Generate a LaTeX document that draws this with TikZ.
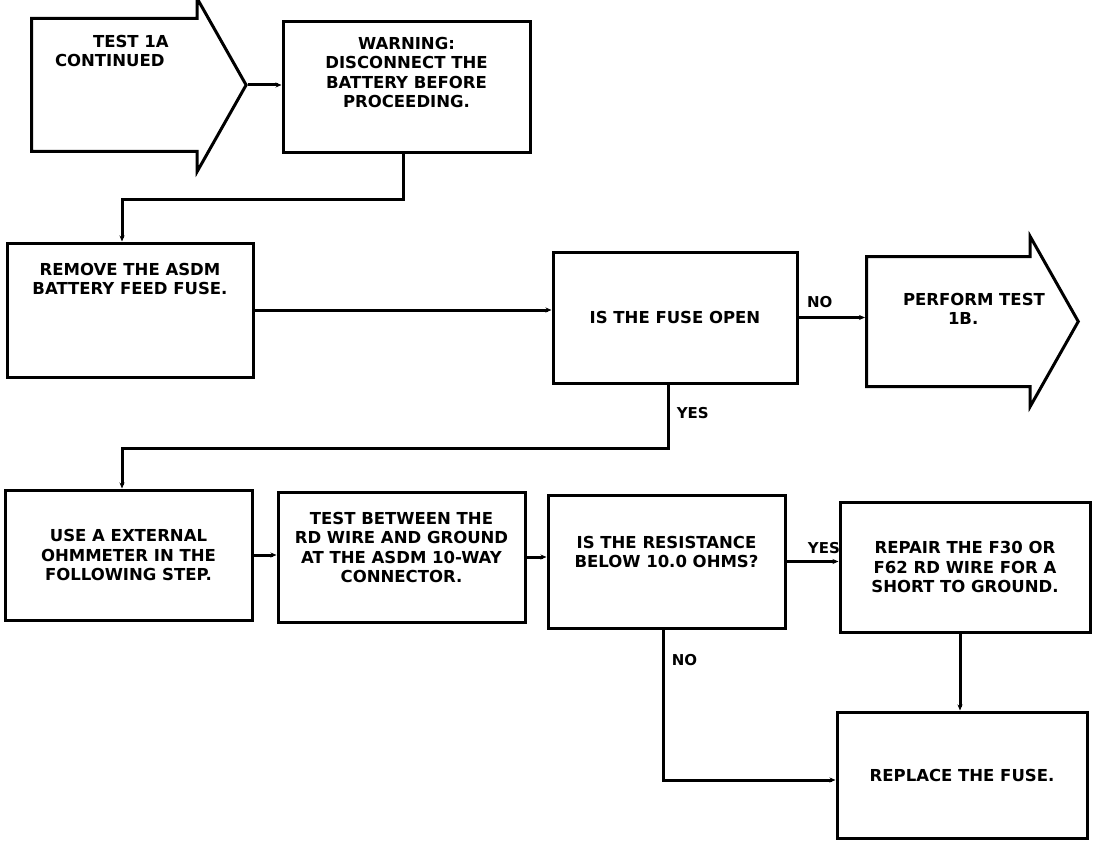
\documentclass[tikz,border=0pt]{standalone}
\usepackage{fontspec}
\setmainfont{DejaVu Sans}
\usetikzlibrary{shapes.arrows,arrows.meta}

\begin{document}
\begin{tikzpicture}[x=1pt,y=-1pt,
    font=\fontsize{16.5}{19.5}\selectfont\bfseries,
    stepbox/.style={draw, line width=3pt, rectangle, inner sep=0pt, align=center},
    gotest/.style={draw, line width=3pt, single arrow, single arrow head extend=20pt,
      single arrow tip angle=121, inner sep=0pt},
    conn/.style={line width=3pt, -{Stealth[length=6pt,width=5pt]}},
    answer/.style={font=\fontsize{15}{18}\selectfont\bfseries}]
  \useasboundingbox (0,0) rectangle (1120,848);

  \node[gotest, anchor=tail] (cont) at (30,85)
    {\parbox[c][130pt][t]{174pt}{\raggedright\vspace*{15pt}\hspace*{60pt}TEST 1A\\\hspace*{22pt}CONTINUED}};
  \node[stepbox, minimum width=247pt, minimum height=131pt] (warn) at (406.5,87.5)
    {\parbox[c][131pt][t]{247pt}{\centering\vspace*{15pt}WARNING:\\DISCONNECT THE\\BATTERY BEFORE\\PROCEEDING.}};
  \node[stepbox, minimum width=246pt, minimum height=134pt] (remove) at (130,310)
    {\parbox[c][134pt][t]{246pt}{\centering\vspace*{20pt}REMOVE THE ASDM\\BATTERY FEED FUSE.}};
  \node[stepbox, minimum width=244pt, minimum height=131pt] (fuse) at (675,317.5)
    {IS THE FUSE OPEN};
  \node[gotest, anchor=tail] (perf) at (865,321.5)
    {\parbox[c][127pt][t]{172pt}{\raggedright\vspace*{35pt}\hspace*{35pt}\mbox{PERFORM TEST}\\\hspace*{80pt}1B.}};

  \node[stepbox, minimum width=247pt, minimum height=130pt] (ohm) at (128.5,555)
    {USE A EXTERNAL\\OHMMETER IN THE\\FOLLOWING STEP.};
  \node[stepbox, minimum width=247pt, minimum height=130pt] (tst) at (401.5,557)
    {TEST BETWEEN THE\\RD WIRE AND GROUND\\AT THE ASDM 10-WAY\\CONNECTOR.\\};
  \node[stepbox, minimum width=237pt, minimum height=133pt] (res) at (666.5,561.5)
    {IS THE RESISTANCE\\BELOW 10.0 OHMS?\\};
  \node[stepbox, minimum width=250pt, minimum height=130pt] (repair) at (965,567)
    {REPAIR THE F30 OR\\F62 RD WIRE FOR A\\SHORT TO GROUND.};
  \node[stepbox, minimum width=250pt, minimum height=126pt] (replace) at (962,775)
    {REPLACE THE FUSE.};

  \draw[conn] (cont.tip) -- (cont.tip -| warn.west);
  \draw[conn] ([xshift=-3.5pt]warn.south) -- ++(0,45) -| ([xshift=-8pt]remove.north);
  \draw[conn] (remove.east) -- (remove.east -| fuse.west);
  \draw[conn] (fuse.east) -- node[answer, above=5pt, pos=0.32] {NO} (fuse.east -| perf.tail);
  \draw[conn] ([xshift=-7pt]fuse.south) -- node[answer, right=4pt, pos=0.45] {YES} ++(0,64)
    -| ([xshift=-6.5pt]ohm.north);
  \draw[conn] (ohm.east) -- (ohm.east -| tst.west);
  \draw[conn] (tst.east) -- (tst.east -| res.west);
  \draw[conn] (res.east) -- node[answer, above=3pt, pos=0.72] {YES} (res.east -| repair.west);
  \draw[conn] ([xshift=-5pt]repair.south) -- ([xshift=-2pt]replace.north);
  \draw[conn] ([xshift=-3.5pt]res.south) |- node[answer, right=4pt, pos=0.1] {NO} ([yshift=-5pt]replace.west);
\end{tikzpicture}
\end{document}
